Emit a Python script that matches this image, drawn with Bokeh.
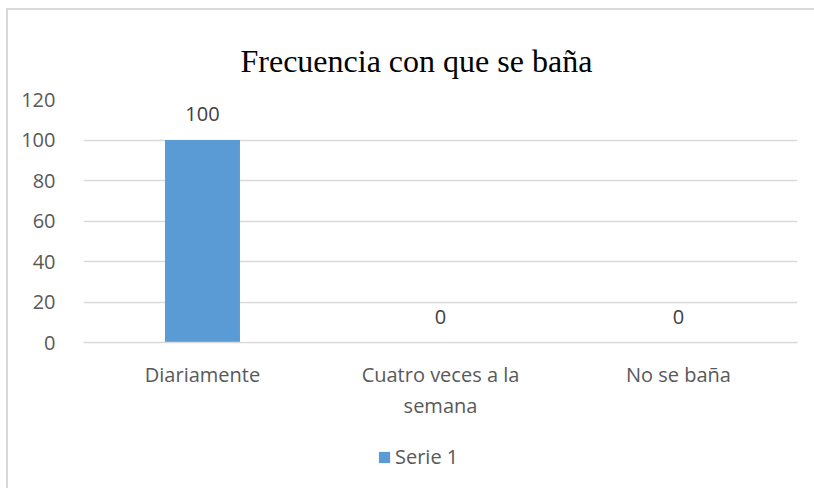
from bokeh.plotting import figure
from bokeh.models import (FactorRange, ColumnDataSource, LabelSet, Legend,
                          LegendItem, Range1d, FixedTicker, Label)
from bokeh.layouts import column
from bokeh.core.properties import value
from bokeh.embed import file_html
from bokeh.resources import INLINE

categories = ["Diariamente", "Cuatro veces a la\nsemana", "No se baña"]
values = [100, 0, 0]
series_name = "Serie 1"
y_ticks = [0, 20, 40, 60, 80, 100, 120]
title_text = "Frecuencia con que se baña"

FONT = "Open Sans"
GRAY = "#595959"
BAR = "#5b9bd5"

src = ColumnDataSource(dict(cat=categories, val=values,
                            lab=[str(v) for v in values]))

# ---- title strip ----
pt = figure(x_range=Range1d(0, 1), y_range=Range1d(0, 1),
            width=806, height=75, output_backend="svg", toolbar_location=None,
            min_border=0, x_axis_location=None, y_axis_location=None)
pt.outline_line_color = None
pt.xgrid.grid_line_color = None
pt.ygrid.grid_line_color = None
pt.add_layout(Label(x=157, y=25, x_units="screen", y_units="screen",
                    text=title_text, text_align="left",
                    text_baseline="alphabetic",
                    text_font="Liberation Serif", text_font_size="32px",
                    text_color="#000000"))

# ---- main chart ----
p = figure(x_range=FactorRange(*categories, range_padding=0),
           y_range=Range1d(0, 120),
           width=806, height=345, output_backend="svg", toolbar_location=None,
           min_border_left=75, min_border_right=17, min_border_top=14,
           min_border_bottom=88)

r = p.vbar(x="cat", top="val", width=0.315, source=src,
           fill_color=BAR, line_color=None)

labels = LabelSet(x="cat", y="val", text="lab", source=src,
                  text_align="center", text_baseline="middle", y_offset=26,
                  text_font=value(FONT), text_font_size="20px", text_color="#404040")
p.add_layout(labels)

p.outline_line_color = None
p.background_fill_color = "white"
p.border_fill_color = "white"

p.xgrid.grid_line_color = None
p.ygrid.grid_line_color = "#d9d9d9"
p.ygrid.grid_line_width = 1.5
p.yaxis.ticker = FixedTicker(ticks=y_ticks)
p.yaxis.axis_line_color = None
p.yaxis.major_tick_line_color = None
p.yaxis.minor_tick_line_color = None
p.yaxis.major_label_standoff = 22
p.yaxis.major_label_text_font = FONT
p.yaxis.major_label_text_font_size = "20px"
p.yaxis.major_label_text_color = GRAY

p.xaxis.axis_line_color = "#d9d9d9"
p.xaxis.axis_line_width = 1.5
p.xaxis.major_tick_line_color = None
p.xaxis.minor_tick_line_color = None
p.xaxis.major_label_standoff = 12
p.xaxis.major_label_text_font = FONT
p.xaxis.major_label_text_font_size = "20px"
p.xaxis.major_label_text_color = GRAY
p.xaxis.major_label_text_line_height = 1.18

# ---- legend strip (same series, drawn outside its visible range) ----
pl = figure(x_range=FactorRange(*categories, range_padding=0),
            y_range=Range1d(1000, 1001),
            width=806, height=58, output_backend="svg", toolbar_location=None,
            min_border=0, x_axis_location=None, y_axis_location=None)
pl.outline_line_color = None
pl.xgrid.grid_line_color = None
pl.ygrid.grid_line_color = None
rl = pl.vbar(x="cat", top="val", width=0.315, source=src,
             fill_color=BAR, line_color=None)
legend = Legend(items=[LegendItem(label=series_name, renderers=[rl])],
                location=(294, 18), orientation="horizontal",
                glyph_width=14, glyph_height=14, label_standoff=4,
                padding=0, margin=0, border_line_color=None,
                background_fill_alpha=0,
                label_text_font=FONT, label_text_font_size="20px",
                label_text_color=GRAY)
pl.add_layout(legend, "center")

layout = column(pt, p, pl, spacing=0)
layout.styles = {"margin-left": "6px", "margin-top": "8px",
                 "border-left": "2px solid #d9d9d9",
                 "border-top": "2px solid #d9d9d9"}

open("out.html", "w").write(file_html(layout, INLINE))
